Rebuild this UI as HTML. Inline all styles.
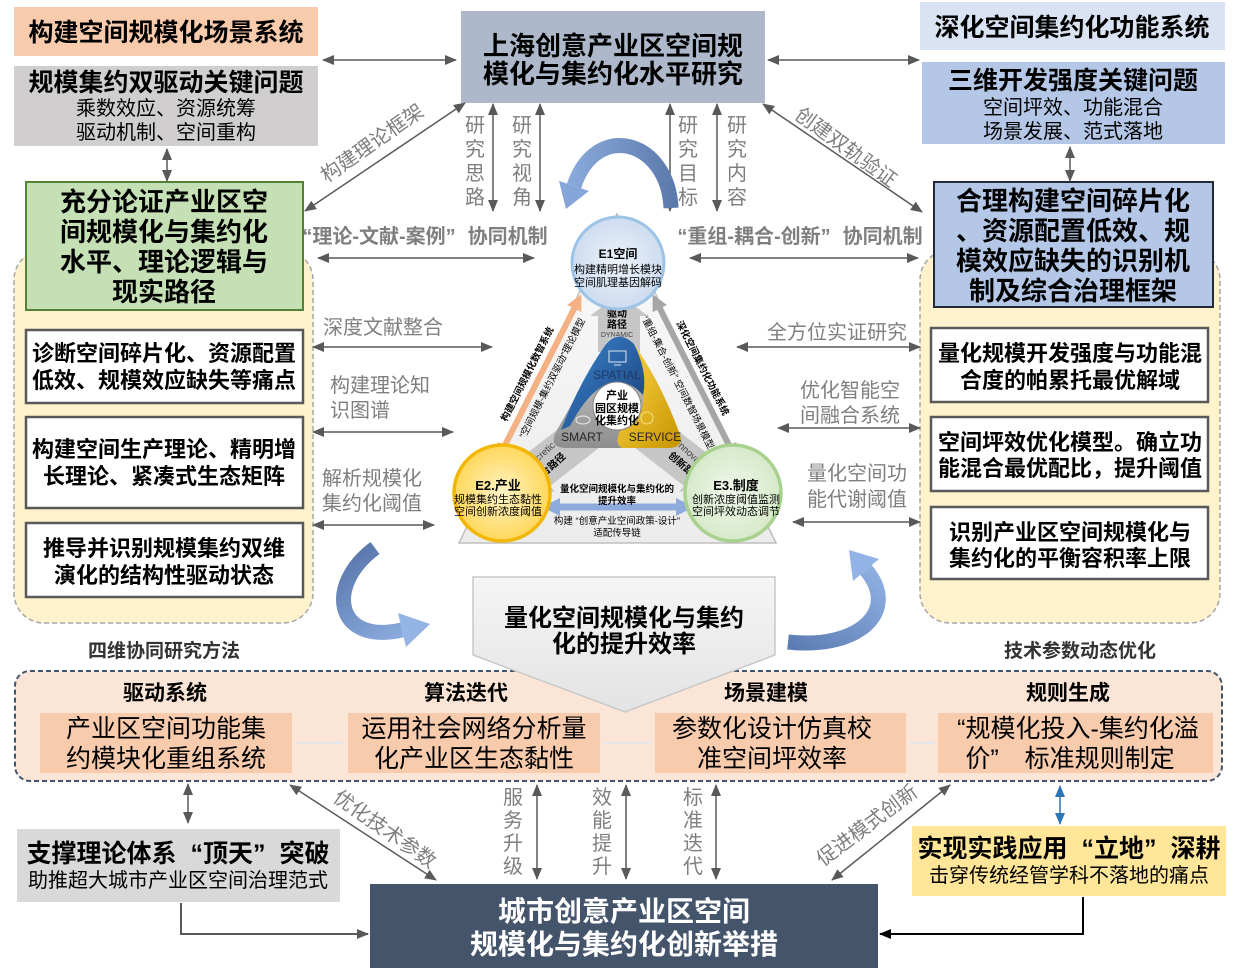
<!DOCTYPE html>
<html><head><meta charset="utf-8">
<style>
html,body{margin:0;padding:0;background:#fff;}
svg{display:block;}
text{font-family:"Liberation Sans","Noto Sans CJK SC",sans-serif;}
.b{font-weight:700;}
.g{fill:#7f7f7f;}
.c{text-anchor:middle;}
.ar{stroke:#595959;stroke-width:1.5;fill:none;}
</style></head><body>
<svg width="1245" height="975" viewBox="0 0 1245 975" xmlns="http://www.w3.org/2000/svg">
<defs>
<marker id="a" markerUnits="userSpaceOnUse" markerWidth="12" markerHeight="10" refX="11" refY="5" orient="auto-start-reverse"><path d="M0,0L12,5L0,10z" fill="#595959"/></marker>
<marker id="ak" markerUnits="userSpaceOnUse" markerWidth="12" markerHeight="10" refX="11" refY="5" orient="auto-start-reverse"><path d="M0,0L12,5L0,10z" fill="#000"/></marker>
<marker id="ab" markerUnits="userSpaceOnUse" markerWidth="12" markerHeight="10" refX="11" refY="5" orient="auto-start-reverse"><path d="M0,0L12,5L0,10z" fill="#2e75b6"/></marker>
<marker id="ao" markerUnits="userSpaceOnUse" markerWidth="16" markerHeight="16" refX="4" refY="8" orient="auto-start-reverse"><path d="M0,0L16,8L0,16z" fill="#f4b183"/></marker>
<marker id="ag" markerUnits="userSpaceOnUse" markerWidth="16" markerHeight="16" refX="4" refY="8" orient="auto-start-reverse"><path d="M0,0L16,8L0,16z" fill="#a6a6a6"/></marker>
<marker id="abb" markerUnits="userSpaceOnUse" markerWidth="18" markerHeight="18" refX="4" refY="9" orient="auto-start-reverse"><path d="M0,0L18,9L0,18z" fill="#8faadc"/></marker>
<linearGradient id="gTri" x1="0" y1="0" x2="0" y2="1"><stop offset="0" stop-color="#fafafa"/><stop offset="1" stop-color="#ececec"/></linearGradient>
<linearGradient id="gChev" x1="0" y1="0" x2="0" y2="1"><stop offset="0" stop-color="#f5f5f5"/><stop offset="1" stop-color="#e3e3e3"/></linearGradient>
<linearGradient id="gTop" gradientUnits="userSpaceOnUse" x1="560" y1="0" x2="680" y2="0"><stop offset="0" stop-color="#8eaee0"/><stop offset="1" stop-color="#5a77aa"/></linearGradient>
<linearGradient id="gL" gradientUnits="userSpaceOnUse" x1="370" y1="545" x2="430" y2="640"><stop offset="0" stop-color="#5b79ae"/><stop offset="1" stop-color="#94b4e6"/></linearGradient>
<linearGradient id="gR" gradientUnits="userSpaceOnUse" x1="790" y1="645" x2="860" y2="550"><stop offset="0" stop-color="#5d7cb3"/><stop offset="1" stop-color="#93b3e6"/></linearGradient>
<linearGradient id="gBlue" x1="0" y1="0" x2="1" y2="1"><stop offset="0" stop-color="#3a86d0"/><stop offset="1" stop-color="#1c3f78"/></linearGradient>
<linearGradient id="gYel" x1="0" y1="0" x2="1" y2="1"><stop offset="0" stop-color="#ffd84a"/><stop offset="1" stop-color="#c79400"/></linearGradient>
<linearGradient id="gGry" x1="0" y1="0" x2="0" y2="1"><stop offset="0" stop-color="#d6d6d6"/><stop offset="1" stop-color="#8e8e8e"/></linearGradient>
<radialGradient id="gE1"><stop offset="0" stop-color="#eef3fa"/><stop offset="1" stop-color="#cddcf0"/></radialGradient>
<radialGradient id="gE2"><stop offset="0" stop-color="#fff4c8"/><stop offset="1" stop-color="#ffd75a"/></radialGradient>
<radialGradient id="gE3"><stop offset="0" stop-color="#f1f8ec"/><stop offset="1" stop-color="#d6e9c9"/></radialGradient>
</defs>

<!-- containers -->
<rect x="14" y="250" width="299" height="373" rx="30" fill="#fff2cc" stroke="#a6a6a6" stroke-width="1.5" stroke-dasharray="5,3"/>
<rect x="920" y="250" width="300" height="373" rx="30" fill="#fff2cc" stroke="#a6a6a6" stroke-width="1.5" stroke-dasharray="5,3"/>
<rect x="15" y="671" width="1207" height="110" rx="15" fill="#fbe5d6" stroke="#44546a" stroke-width="2" stroke-dasharray="5,3"/>

<!-- top left -->
<rect x="14" y="7" width="304" height="49" fill="#f8cbad"/>
<text x="166" y="41" class="b c" font-size="25">构建空间规模化场景系统</text>
<rect x="14" y="66" width="304" height="80" fill="#d0cece"/>
<text x="166" y="91" class="b c" font-size="25">规模集约双驱动关键问题</text>
<text x="166" y="115" class="c" font-size="20">乘数效应、资源统筹</text>
<text x="166" y="139" class="c" font-size="20">驱动机制、空间重构</text>

<!-- top center -->
<rect x="461" y="11" width="304" height="92" fill="#adb9ca"/>
<text x="613" y="55" class="b c" font-size="26">上海创意产业区空间规</text>
<text x="613" y="83" class="b c" font-size="26">模化与集约化水平研究</text>

<!-- top right -->
<rect x="920" y="2" width="305" height="48" fill="#dae3f3"/>
<text x="1072" y="36" class="b c" font-size="25">深化空间集约化功能系统</text>
<rect x="922" y="62" width="303" height="82" fill="#b4c7e7"/>
<text x="1073" y="89" class="b c" font-size="25">三维开发强度关键问题</text>
<text x="1073" y="114" class="c" font-size="20">空间坪效、功能混合</text>
<text x="1073" y="138" class="c" font-size="20">场景发展、范式落地</text>

<!-- green box -->
<rect x="26" y="182" width="277" height="128" fill="#c5e0b4" stroke="#548235" stroke-width="2"/>
<text x="164" y="211" class="b c" font-size="26">充分论证产业区空</text>
<text x="164" y="241" class="b c" font-size="26">间规模化与集约化</text>
<text x="164" y="271" class="b c" font-size="26">水平、理论逻辑与</text>
<text x="164" y="301" class="b c" font-size="26">现实路径</text>

<!-- right blue box -->
<rect x="934" y="182" width="279" height="125" fill="#b4c7e7" stroke="#222a35" stroke-width="2"/>
<text x="1073" y="210" class="b c" font-size="26">合理构建空间碎片化</text>
<text x="1073" y="240" class="b c" font-size="26">、资源配置低效、规</text>
<text x="1073" y="270" class="b c" font-size="26">模效应缺失的识别机</text>
<text x="1073" y="300" class="b c" font-size="26">制及综合治理框架</text>

<!-- left white boxes -->
<rect x="26" y="330" width="277" height="73" fill="#fff" stroke="#595959" stroke-width="2.5"/>
<text x="164" y="361" class="b c" font-size="22">诊断空间碎片化、资源配置</text>
<text x="164" y="388" class="b c" font-size="22">低效、规模效应缺失等痛点</text>
<rect x="26" y="417" width="277" height="91" fill="#fff" stroke="#595959" stroke-width="2.5"/>
<text x="164" y="457" class="b c" font-size="22">构建空间生产理论、精明增</text>
<text x="164" y="484" class="b c" font-size="22">长理论、紧凑式生态矩阵</text>
<rect x="26" y="523" width="277" height="74" fill="#fff" stroke="#595959" stroke-width="2.5"/>
<text x="164" y="556" class="b c" font-size="22">推导并识别规模集约双维</text>
<text x="164" y="583" class="b c" font-size="22">演化的结构性驱动状态</text>

<!-- right white boxes -->
<rect x="931" y="328" width="277" height="74" fill="#fff" stroke="#595959" stroke-width="2.5"/>
<text x="1070" y="361" class="b c" font-size="22">量化规模开发强度与功能混</text>
<text x="1070" y="388" class="b c" font-size="22">合度的帕累托最优解域</text>
<rect x="931" y="417" width="277" height="74" fill="#fff" stroke="#595959" stroke-width="2.5"/>
<text x="1070" y="450" class="b c" font-size="22">空间坪效优化模型。确立功</text>
<text x="1070" y="476" class="b c" font-size="22">能混合最优配比，提升阈值</text>
<rect x="931" y="507" width="277" height="72" fill="#fff" stroke="#595959" stroke-width="2.5"/>
<text x="1070" y="540" class="b c" font-size="22">识别产业区空间规模化与</text>
<text x="1070" y="566" class="b c" font-size="22">集约化的平衡容积率上限</text>

<!-- thin arrows -->
<g class="ar" marker-start="url(#a)" marker-end="url(#a)">
<line x1="323" y1="60" x2="456" y2="60"/>
<line x1="768" y1="60" x2="919" y2="60"/>
<line x1="167" y1="149" x2="167" y2="181"/>
<line x1="1070" y1="147" x2="1070" y2="181"/>
<line x1="465" y1="103" x2="305" y2="211"/>
<line x1="763" y1="104" x2="922" y2="212"/>
<line x1="493" y1="104" x2="493" y2="211"/>
<line x1="540" y1="104" x2="540" y2="211"/>
<line x1="670" y1="104" x2="670" y2="211"/>
<line x1="717" y1="104" x2="717" y2="211"/>
<line x1="318" y1="258" x2="534" y2="258"/>
<line x1="690" y1="258" x2="918" y2="258"/>
<line x1="313" y1="347" x2="492" y2="347"/>
<line x1="313" y1="432" x2="453" y2="432"/>
<line x1="313" y1="525" x2="434" y2="525"/>
<line x1="737" y1="347" x2="920" y2="347"/>
<line x1="778" y1="428" x2="920" y2="428"/>
<line x1="793" y1="522" x2="920" y2="522"/>
<line x1="188" y1="784" x2="188" y2="823"/>
<line x1="290" y1="785" x2="436" y2="880"/>
<line x1="537" y1="785" x2="537" y2="879"/>
<line x1="626" y1="785" x2="626" y2="879"/>
<line x1="716" y1="785" x2="716" y2="879"/>
<line x1="950" y1="785" x2="832" y2="880"/>
</g>
<line x1="1060" y1="786" x2="1060" y2="824" stroke="#2e75b6" stroke-width="1.5" marker-start="url(#ab)" marker-end="url(#ab)"/>

<!-- grey labels -->
<g class="g" font-size="20">
<text x="323" y="334">深度文献整合</text>
<text x="330" y="392">构建理论知</text>
<text x="330" y="417">识图谱</text>
<text x="322" y="485">解析规模化</text>
<text x="322" y="510">集约化阈值</text>
<text x="767" y="339">全方位实证研究</text>
<text x="800" y="397">优化智能空</text>
<text x="800" y="422">间融合系统</text>
<text x="807" y="480">量化空间功</text>
<text x="807" y="506">能代谢阈值</text>
<g class="c">
<text x="475" y="132">研</text><text x="475" y="156">究</text><text x="475" y="180">思</text><text x="475" y="204">路</text>
<text x="522" y="132">研</text><text x="522" y="156">究</text><text x="522" y="180">视</text><text x="522" y="204">角</text>
<text x="688" y="132">研</text><text x="688" y="156">究</text><text x="688" y="180">目</text><text x="688" y="204">标</text>
<text x="737" y="132">研</text><text x="737" y="156">究</text><text x="737" y="180">内</text><text x="737" y="204">容</text>
<text x="513" y="804">服</text><text x="513" y="827">务</text><text x="513" y="850">升</text><text x="513" y="873">级</text>
<text x="602" y="804">效</text><text x="602" y="827">能</text><text x="602" y="850">提</text><text x="602" y="873">升</text>
<text x="693" y="804">标</text><text x="693" y="827">准</text><text x="693" y="850">迭</text><text x="693" y="873">代</text>
<text transform="translate(372,143) rotate(-35)" y="7">构建理论框架</text>
<text transform="translate(846,147) rotate(36)" y="7">创建双轨验证</text>
<text transform="translate(385,829) rotate(35)" y="7">优化技术参数</text>
<text transform="translate(867,825) rotate(-37)" y="7">促进模式创新</text>
</g>
</g>
<text x="425" y="243" class="b c g" font-size="20">“理论-文献-案例”<tspan dx="12">协同机制</tspan></text>
<text x="800" y="243" class="b c g" font-size="20">“重组-耦合-创新”<tspan dx="12">协同机制</tspan></text>

<text x="164" y="657" class="b c" font-size="19" fill="#333">四维协同研究方法</text>
<text x="1080" y="657" class="b c" font-size="19" fill="#333">技术参数动态优化</text>

<!-- triangle diagram -->
<polygon points="617,214 459,543 776,543" fill="url(#gTri)" stroke="#bfbfbf" stroke-width="1.5"/>
<line x1="503" y1="449" x2="576" y2="305" stroke="#f4b183" stroke-width="6" marker-start="url(#ao)" marker-end="url(#ao)"/>
<line x1="658" y1="305" x2="731" y2="449" stroke="#a6a6a6" stroke-width="6" marker-start="url(#ag)" marker-end="url(#ag)"/>
<line x1="556" y1="507" x2="680" y2="507" stroke="#8faadc" stroke-width="7" marker-start="url(#abb)" marker-end="url(#abb)"/>
<g font-size="9.5" class="c">
<text transform="translate(527,374) rotate(-63)" y="3.5" class="b">构建空间规模化数智系统</text>
<text transform="translate(552,378) rotate(-63)" y="3.5">“空间规模-集约双驱动”理论模型</text>
<text transform="translate(703,368) rotate(63)" y="3.5" class="b">深化空间集约化功能系统</text>
<text transform="translate(678,382) rotate(63)" y="3.5">“重组-集合-创新” 空间数智场景模型</text>
<text x="617" y="492" class="b">量化空间规模化与集约化的</text>
<text x="617" y="504" class="b">提升效率</text>
<text x="617" y="524">构建 “创意产业空间政策-设计”</text>
<text x="617" y="536">适配传导链</text>
</g>
<!-- grey block arrows -->
<polygon points="598,352 598,316 590,316 619,294 648,316 640,316 640,352" fill="#c6c6c6"/>
<polygon points="580,412 526,454 521,448 521,484 555,492 550,486 604,444" fill="#c6c6c6"/>
<polygon points="654,412 708,454 713,448 713,484 679,492 684,486 630,444" fill="#c6c6c6"/>
<text x="617" y="317" class="b c" font-size="10">驱动</text>
<text x="617" y="328" class="b c" font-size="10">路径</text>
<text x="617" y="337" class="c" font-size="7" fill="#404040">DYNAMIC</text>
<text transform="translate(539,457) rotate(-42)" y="3" class="c" font-size="9.5" fill="#404040">Syncretic</text>
<text transform="translate(549,468) rotate(-42)" y="3.5" class="b c" font-size="10">融合路径</text>
<text transform="translate(694,457) rotate(42)" y="3" class="c" font-size="9.5" fill="#404040">Innovative</text>
<text transform="translate(685,467) rotate(42)" y="3.5" class="b c" font-size="10">创新路径</text>
<!-- swirl -->
<path d="M617,336 Q624,336 630,347 L677,430 Q687,448 667,448 L567,448 Q547,448 557,430 L604,347 Q610,336 617,336 Z" fill="url(#gGry)"/>
<path d="M634,344 Q662,385 679,432 Q686,448 667,448 L622,448 Q614,443 620,431 Q641,423 643,403 Q646,378 634,344 Z" fill="url(#gYel)"/>
<path d="M604,347 Q617,328 634,344 Q648,372 643,395 Q632,382 616,382 Q592,384 570,426 L561,430 Q578,385 604,347 Z" fill="url(#gBlue)"/>
<rect x="609" y="351" width="17" height="11" fill="none" stroke="#dbe6f5" stroke-width="1"/>
<line x1="614" y1="365" x2="621" y2="365" stroke="#dbe6f5" stroke-width="1"/>
<ellipse cx="583" cy="420" rx="7" ry="4" fill="none" stroke="#eee" stroke-width="1"/>
<circle cx="647" cy="418" r="6" fill="none" stroke="#f7e08a" stroke-width="1"/>
<circle cx="617" cy="406" r="24" fill="#fff" stroke="#7f7f7f" stroke-width="1"/>
<text x="617" y="399" class="b c" font-size="11">产业</text>
<text x="617" y="412" class="b c" font-size="11">园区规模</text>
<text x="617" y="424" class="b c" font-size="11">化集约化</text>
<text x="617" y="379" class="c" font-size="12" fill="#1f3864">SPATIAL</text>
<text x="582" y="441" class="c" font-size="12" fill="#262626">SMART</text>
<text x="655" y="441" class="c" font-size="12" fill="#262626">SERVICE</text>
<!-- circles -->
<circle cx="618" cy="263" r="46" fill="url(#gE1)" stroke="#9dc3e6" stroke-width="3"/>
<text x="618" y="258" class="b c" font-size="12">E1空间</text>
<text x="618" y="273" class="c" font-size="11">构建精明增长模块</text>
<text x="618" y="286" class="c" font-size="11">空间肌理基因解码</text>
<circle cx="502" cy="493" r="48" fill="url(#gE2)" stroke="#f2b705" stroke-width="3.5"/>
<text x="498" y="490" class="b c" font-size="13">E2.产业</text>
<text x="498" y="503" class="c" font-size="11">规模集约生态黏性</text>
<text x="498" y="515" class="c" font-size="11">空间创新浓度阈值</text>
<circle cx="733" cy="493" r="48" fill="url(#gE3)" stroke="#a9d18e" stroke-width="3.5"/>
<text x="736" y="490" class="b c" font-size="13">E3.制度</text>
<text x="736" y="503" class="c" font-size="11">创新浓度阈值监测</text>
<text x="736" y="515" class="c" font-size="11">空间坪效动态调节</text>

<!-- chevron -->
<polygon points="473,577 775,577 775,655 625,712 473,655" fill="url(#gChev)" stroke="#c8c8c8" stroke-width="1.5"/>
<text x="624" y="626" class="b c" font-size="24">量化空间规模化与集约</text>
<text x="624" y="652" class="b c" font-size="24">化的提升效率</text>

<!-- curved arrows -->
<path d="M671,208 C668,140 596,120 574,186" fill="none" stroke="url(#gTop)" stroke-width="15"/>
<polygon points="589,191 559,181 566,209" fill="#86a6da"/>
<path d="M375,548 C325,585 335,645 402,630" fill="none" stroke="url(#gL)" stroke-width="15"/>
<polygon points="406,647 398,613 430,624" fill="#94b4e6"/>
<path d="M788,642 C860,650 900,610 866,570" fill="none" stroke="url(#gR)" stroke-width="15"/>
<polygon points="879,559 853,581 849,550" fill="#93b3e6"/>

<!-- bottom container content -->
<text x="165" y="700" class="b c" font-size="21">驱动系统</text>
<text x="466" y="700" class="b c" font-size="21">算法迭代</text>
<text x="766" y="700" class="b c" font-size="21">场景建模</text>
<text x="1068" y="700" class="b c" font-size="21">规则生成</text>
<rect x="40" y="713" width="252" height="60" fill="#f8cbad"/>
<rect x="348" y="713" width="252" height="60" fill="#f8cbad"/>
<rect x="655" y="713" width="251" height="60" fill="#f8cbad"/>
<rect x="938" y="713" width="275" height="60" fill="#f8cbad"/>
<g stroke="#dde7f4" stroke-width="1.5">
<line x1="296" y1="743" x2="342" y2="743"/>
<line x1="604" y1="743" x2="650" y2="743"/>
<line x1="910" y1="743" x2="934" y2="743"/>
</g>
<g font-size="25" class="c">
<text x="166" y="737">产业区空间功能集</text>
<text x="166" y="767">约模块化重组系统</text>
<text x="474" y="737">运用社会网络分析量</text>
<text x="474" y="767">化产业区生态黏性</text>
<text x="772" y="737">参数化设计仿真校</text>
<text x="772" y="767">准空间坪效率</text>
<text x="1078" y="737">“规模化投入-集约化溢</text>
<text x="1070" y="767">价”<tspan dx="26">标准规则制定</tspan></text>
</g>

<!-- bottom boxes -->
<rect x="17" y="829" width="323" height="73" fill="#d9d9d9"/>
<text x="178" y="862" class="b c" font-size="25">支撑理论体系<tspan dx="14">“</tspan>顶天”<tspan dx="14">突破</tspan></text>
<text x="178" y="887" class="c" font-size="20">助推超大城市产业区空间治理范式</text>
<rect x="370" y="884" width="508" height="84" fill="#44546a"/>
<text x="624" y="921" class="b c" font-size="28" fill="#fff">城市创意产业区空间</text>
<text x="624" y="954" class="b c" font-size="28" fill="#fff">规模化与集约化创新举措</text>
<rect x="912" y="826" width="314" height="70" fill="#ffe699"/>
<text x="1069" y="857" class="b c" font-size="25">实现实践应用<tspan dx="14">“</tspan>立地”<tspan dx="14">深耕</tspan></text>
<text x="1069" y="882" class="c" font-size="20">击穿传统经管学科不落地的痛点</text>

<polyline points="181,903 181,934 368,934" fill="none" stroke="#595959" stroke-width="2" marker-end="url(#a)"/>
<polyline points="1083,897 1083,934 880,934" fill="none" stroke="#000" stroke-width="2" marker-end="url(#ak)"/>
</svg>
</body></html>
